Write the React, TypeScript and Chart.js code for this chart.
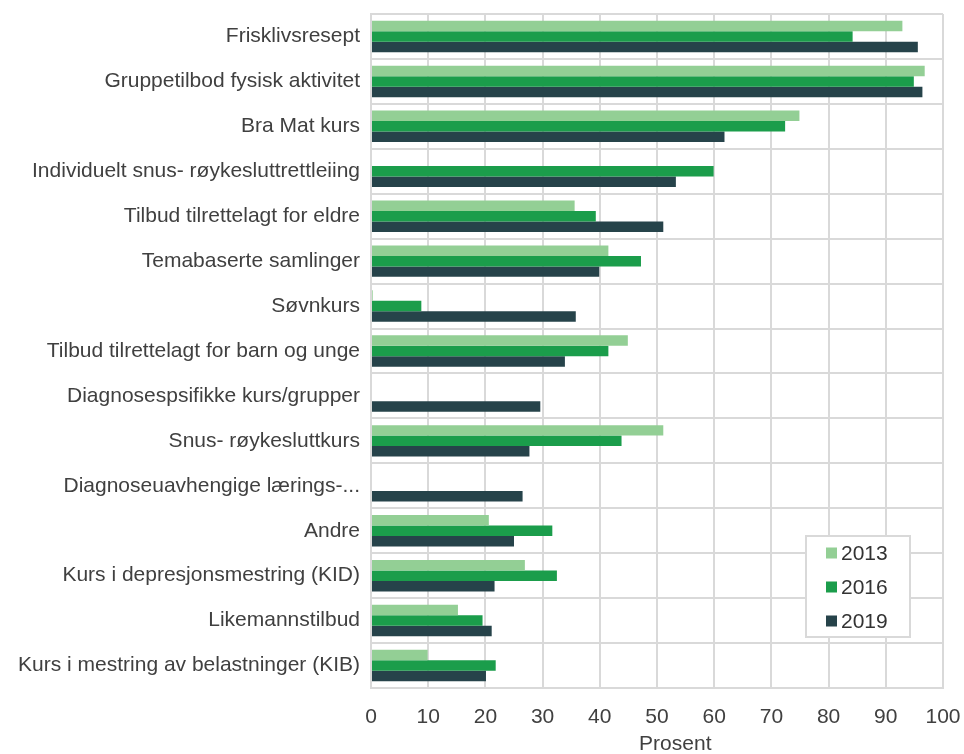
import React, { useEffect, useRef } from "react";
import { Chart, registerables } from "chart.js";

Chart.register(...registerables);

// Tilbud i frisklivssentralene, andel (prosent) per år
const categories = [
  "Frisklivsresept",
  "Gruppetilbod fysisk aktivitet",
  "Bra Mat kurs",
  "Individuelt snus- røykesluttrettleiing",
  "Tilbud tilrettelagt for eldre",
  "Temabaserte samlinger",
  "Søvnkurs",
  "Tilbud tilrettelagt for barn og unge",
  "Diagnosespsifikke kurs/grupper",
  "Snus- røykesluttkurs",
  "Diagnoseuavhengige lærings-...",
  "Andre",
  "Kurs i depresjonsmestring (KID)",
  "Likemannstilbud",
  "Kurs i mestring av belastninger (KIB)",
];

const seriesLabels = ["2013", "2016", "2019"];

const values2013 = [92.9, 96.8, 74.9, null, 35.6, 41.5, 0.3, 44.9, null, 51.1, null, 20.6, 26.9, 15.2, 9.9];
const values2016 = [84.2, 94.9, 72.4, 59.9, 39.3, 47.2, 8.8, 41.5, null, 43.8, null, 31.7, 32.5, 19.5, 21.8];
const values2019 = [95.6, 96.4, 61.8, 53.3, 51.1, 39.9, 35.8, 33.9, 29.6, 27.7, 26.5, 25.0, 21.6, 21.1, 20.1];

const axisMin = 0;
const axisMax = 100;
const axisStep = 10;
const axisTitle = "Prosent";

const seriesColors = ["#93cf95", "#1b9d4b", "#26434a"];
const gridColor = "#d9d9d9";
const textColor = "#404040";
const fontFamily = "'Liberation Sans', Arial, sans-serif";
const fontSize = 21;

// Draws the axis title and a boxed legend inside the plot area
const overlayPlugin = {
  id: "overlay",
  afterDraw(chart: any) {
    const { ctx, chartArea } = chart;
    ctx.save();

    ctx.font = `${fontSize}px ${fontFamily}`;
    ctx.fillStyle = textColor;
    ctx.textAlign = "center";
    ctx.textBaseline = "middle";
    const w = chartArea.right - chartArea.left;
    ctx.fillText(axisTitle, chartArea.left + w * 0.532, chartArea.bottom + 56);

    const boxW = 104;
    const boxH = 101;
    const x0 = chartArea.right - 33 - boxW;
    const y0 = chartArea.bottom - 51 - boxH;
    ctx.fillStyle = "#ffffff";
    ctx.fillRect(x0, y0, boxW, boxH);
    ctx.strokeStyle = gridColor;
    ctx.lineWidth = 2;
    ctx.strokeRect(x0, y0, boxW, boxH);

    ctx.textAlign = "left";
    chart.data.datasets.forEach((ds: any, i: number) => {
      const cy = y0 + 17 + i * 34;
      ctx.fillStyle = ds.backgroundColor;
      ctx.fillRect(x0 + 20, cy - 5.5, 11, 11);
      ctx.fillStyle = "#333333";
      ctx.font = `${fontSize}px ${fontFamily}`;
      ctx.fillText(ds.label, x0 + 35, cy + 1);
    });

    ctx.restore();
  },
};

export default function App() {
  const canvasRef = useRef<HTMLCanvasElement | null>(null);

  useEffect(() => {
    if (!canvasRef.current) return;
    const seriesValues = [values2013, values2016, values2019];
    const chart = new Chart(canvasRef.current, {
      type: "bar",
      data: {
        labels: categories,
        datasets: seriesLabels.map((label, i) => ({
          label,
          data: seriesValues[i],
          backgroundColor: seriesColors[i],
          borderWidth: 0,
          categoryPercentage: 0.7,
          barPercentage: 1,
        })),
      },
      options: {
        indexAxis: "y",
        animation: false,
        responsive: false,
        maintainAspectRatio: false,
        layout: { padding: { top: 14, right: 21, left: 0, bottom: 0 } },
        plugins: {
          legend: { display: false },
          tooltip: { enabled: false },
        },
        scales: {
          x: {
            min: axisMin,
            max: axisMax,
            ticks: {
              stepSize: axisStep,
              color: textColor,
              font: { family: fontFamily, size: fontSize },
              padding: 17,
            },
            grid: { color: gridColor, lineWidth: 2, drawTicks: false },
            border: { color: gridColor, width: 2 },
            afterFit: (scale: any) => {
              scale.height = 66;
              scale.paddingLeft = 0;
              scale.paddingRight = 0;
            },
          },
          y: {
            ticks: {
              color: textColor,
              font: { family: fontFamily, size: fontSize },
              padding: 11,
              autoSkip: false,
            },
            grid: { color: gridColor, lineWidth: 2, drawTicks: false, offset: true },
            border: { color: gridColor, width: 2 },
            afterFit: (scale: any) => {
              scale.width = 371;
              scale.paddingTop = 0;
              scale.paddingBottom = 0;
            },
          },
        },
      },
      plugins: [overlayPlugin],
    });
    return () => chart.destroy();
  }, []);

  return (
    <div style={{ position: "fixed", left: 0, top: 0, width: 964, height: 754, background: "#fff" }}>
      <canvas ref={canvasRef} width={964} height={754} />
    </div>
  );
}
